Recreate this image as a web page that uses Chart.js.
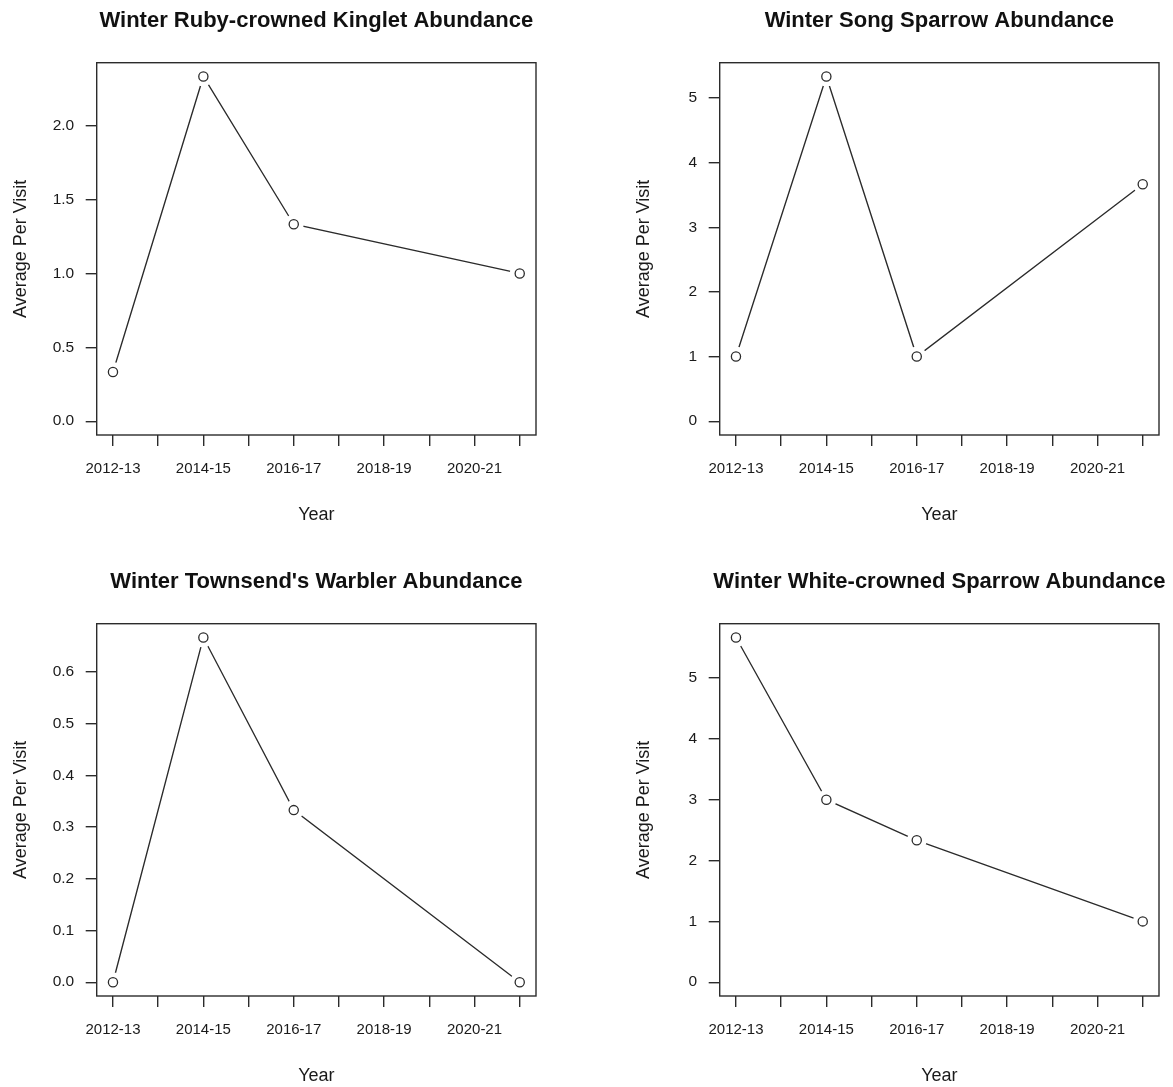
<!DOCTYPE html>
<html>
<head>
<meta charset="utf-8">
<title>Winter Abundance</title>
<script src="https://cdn.jsdelivr.net/npm/chart.js@4/dist/chart.umd.min.js"></script>
<style>
  body { margin: 0; background: #fff; }
  .panel { position: absolute; width: 550px; height: 526px; }
</style>
</head>
<body>
<div class="panel" style="left:0px;top:0px"><canvas id="kinglet" width="550" height="526"></canvas></div>
<div class="panel" style="left:623px;top:0px"><canvas id="songSparrow" width="550" height="526"></canvas></div>
<div class="panel" style="left:0px;top:561px"><canvas id="townsend" width="550" height="526"></canvas></div>
<div class="panel" style="left:623px;top:561px"><canvas id="whiteCrowned" width="550" height="526"></canvas></div>
<script>
// first year of each surveyed winter season
const seasons = [2012, 2014, 2016, 2021];
const tickYears = [2012, 2013, 2014, 2015, 2016, 2017, 2018, 2019, 2020, 2021];
const labeledYears = [2012, 2014, 2016, 2018, 2020];
const seasonLabels = ['2012-13', '2014-15', '2016-17', '2018-19', '2020-21'];

// average birds per visit
const kingletAvg = [0.333, 2.333, 1.333, 1.0];
const songSparrowAvg = [1.0, 5.333, 1.0, 3.667];
const townsendAvg = [0.0, 0.667, 0.333, 0.0];
const whiteCrownedAvg = [5.667, 3.0, 2.333, 1.0];

const kingletTicks = [0, 0.5, 1.0, 1.5, 2.0];
const songSparrowTicks = [0, 1, 2, 3, 4, 5];
const townsendTicks = [0, 0.1, 0.2, 0.3, 0.4, 0.5, 0.6];
const whiteCrownedTicks = [0, 1, 2, 3, 4, 5];

const FONT = "'Liberation Sans', Arial, Helvetica, sans-serif";
const INK = '#2b2b2b';
const TEXT = '#1a1a1a';

// full frame around the plot region plus a bold title centred over it
const framePlugin = {
  id: 'frame',
  afterDraw(chart, args, opts) {
    const { ctx, chartArea: a } = chart;
    ctx.save();
    ctx.strokeStyle = INK;
    ctx.lineWidth = 1.4;
    ctx.strokeRect(a.left, a.top, a.right - a.left, a.bottom - a.top);
    ctx.fillStyle = '#111';
    ctx.font = 'bold 22px ' + FONT;
    ctx.textAlign = 'center';
    ctx.textBaseline = 'alphabetic';
    ctx.fillText(opts.text, (a.left + a.right) / 2, 27);
    ctx.restore();
  }
};

function makePanel(id, title, values, yTicks, decimals) {
  const pts = seasons.map((s, i) => ({ x: s, y: values[i] }));
  const xPad = (seasons[seasons.length - 1] - seasons[0]) * 0.04;
  const yMax = Math.max(...values);

  new Chart(document.getElementById(id), {
    type: 'line',
    data: {
      datasets: [
        {
          // open circles
          data: pts,
          showLine: false,
          pointRadius: 4.6,
          pointBackgroundColor: '#fff',
          pointBorderColor: INK,
          pointBorderWidth: 1.3,
          order: 0
        },
        {
          // connecting line, broken around each point
          data: pts,
          borderColor: INK,
          borderWidth: 1.35,
          pointRadius: 10,
          pointBackgroundColor: '#fff',
          pointBorderWidth: 0,
          order: 1
        }
      ]
    },
    options: {
      responsive: false,
      animation: false,
      events: [],
      layout: { padding: { top: 62.7, right: 14, bottom: 0, left: 0 } },
      plugins: {
        legend: { display: false },
        tooltip: { enabled: false },
        frame: { text: title }
      },
      scales: {
        x: {
          type: 'linear',
          min: seasons[0] - xPad,
          max: seasons[seasons.length - 1] + xPad,
          afterBuildTicks: (scale) => { scale.ticks = tickYears.map(v => ({ value: v })); },
          afterFit: (scale) => { scale.height = 91; },
          border: { display: false },
          grid: { drawOnChartArea: false, drawTicks: true, tickLength: 11, color: INK, lineWidth: 1.4 },
          ticks: {
            autoSkip: false,
            maxRotation: 0,
            minRotation: 0,
            padding: 14,
            color: TEXT,
            font: { family: FONT, size: 15 },
            callback: (v) => {
              const i = labeledYears.indexOf(v);
              return i >= 0 ? seasonLabels[i] : '';
            }
          },
          title: {
            display: true,
            text: 'Year',
            color: TEXT,
            font: { family: FONT, size: 18, lineHeight: 1.2 },
            padding: { top: 0, bottom: 0 }
          }
        },
        y: {
          min: -yMax * 0.04,
          max: yMax * 1.04,
          afterBuildTicks: (scale) => { scale.ticks = yTicks.map(v => ({ value: v })); },
          afterFit: (scale) => { scale.width = 96.7; },
          border: { display: false },
          grid: { drawOnChartArea: false, drawTicks: true, tickLength: 11, color: INK, lineWidth: 1.4 },
          ticks: {
            padding: 11.5,
            color: TEXT,
            font: { family: FONT, size: 15.5 },
            callback: (v) => Number(v).toFixed(decimals)
          },
          title: {
            display: true,
            text: 'Average Per Visit',
            color: TEXT,
            font: { family: FONT, size: 18, lineHeight: 1.2 },
            padding: { top: 10, bottom: 0 }
          }
        }
      }
    },
    plugins: [framePlugin]
  });
}

makePanel('kinglet', 'Winter Ruby-crowned Kinglet Abundance', kingletAvg, kingletTicks, 1);
makePanel('songSparrow', 'Winter Song Sparrow Abundance', songSparrowAvg, songSparrowTicks, 0);
makePanel('townsend', "Winter Townsend's Warbler Abundance", townsendAvg, townsendTicks, 1);
makePanel('whiteCrowned', 'Winter White-crowned Sparrow Abundance', whiteCrownedAvg, whiteCrownedTicks, 0);
</script>
</body>
</html>
